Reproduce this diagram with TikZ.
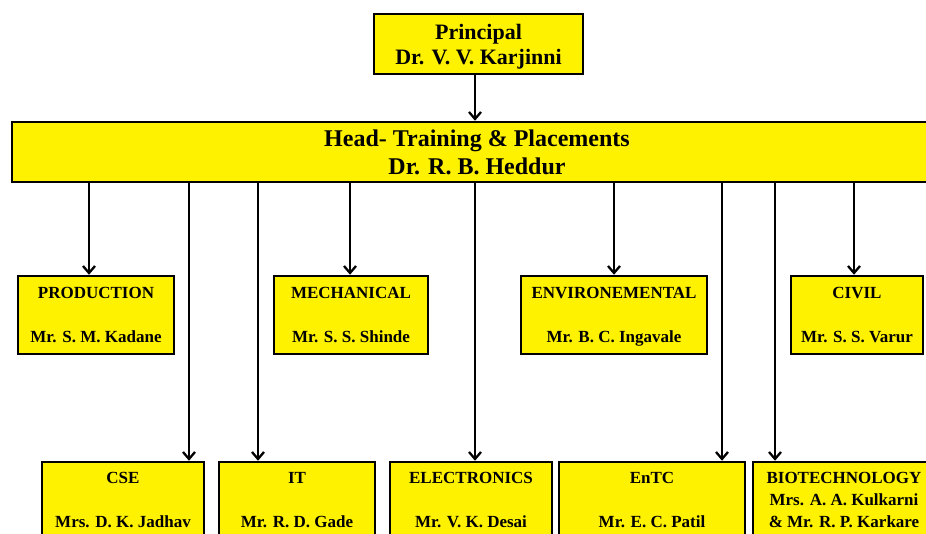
\documentclass[tikz,border=0pt]{standalone}
\usepackage{fontspec}
\setmainfont{Liberation Serif}
\usetikzlibrary{arrows.meta, positioning}
\newcommand{\topfont}{\fontsize{22}{25}\selectfont\bfseries}
\newcommand{\headfont}{\fontsize{24}{28}\selectfont\bfseries}
\newcommand{\deptfont}{\fontsize{17}{22}\selectfont\bfseries}

\begin{document}
\begin{tikzpicture}[x=1pt, y=-1pt,
  unit/.style={draw, line width=2.5pt, fill=yellow, align=center, inner sep=0pt},
  dept/.style={unit, font=\deptfont, minimum height=78pt, text depth=-1pt},
  link/.style={-{Straight Barb[length=7pt,width=12pt]}, line width=2.3pt}]
  \clip (0,0) rectangle (926,533);
  % 組織図
  \node[unit, font=\topfont, minimum width=209pt, minimum height=60pt, text depth=-1pt] (principal) at (478.5,44) {Principal\\Dr. V. V. Karjinni};
  \node[unit, font=\headfont, minimum width=930pt, minimum height=60pt, text depth=-4pt] (head) at (477,152) {Head- Training \& Placements\\Dr. R. B. Heddur};

  \node[dept, minimum width=156pt] (prod) at (96,315) {PRODUCTION\\[22pt]Mr. S. M. Kadane};
  \node[dept, minimum width=154pt] (mech) at (351,315) {MECHANICAL\\[22pt]Mr. S. S. Shinde};
  \node[dept, minimum width=186pt] (env) at (614,315) {ENVIRONEMENTAL\\[22pt]Mr. B. C. Ingavale};
  \node[dept, minimum width=132pt] (civil) at (857,315) {CIVIL\\[22pt]Mr. S. S. Varur};

  \node[dept, minimum width=162pt, minimum height=76pt] (cse) at (123,500) {CSE\\[22pt]Mrs. D. K. Jadhav};
  \node[dept, minimum width=156pt, minimum height=76pt] (it) at (297,500) {IT\\[22pt]Mr. R. D. Gade};
  \node[dept, minimum width=162pt, minimum height=76pt] (elec) at (471,500) {ELECTRONICS\\[22pt]Mr. V. K. Desai};
  \node[dept, minimum width=186pt, minimum height=76pt] (entc) at (652,500) {EnTC\\[22pt]Mr. E. C. Patil};
  \node[dept, minimum width=182pt, minimum height=76pt] (bio) at (844,500) {BIOTECHNOLOGY\\Mrs. A. A. Kulkarni\\\& Mr. R. P. Karkare};

  \draw[link] (principal.south -| 475,0) -- (head.north -| 475,0);

  \draw[link] (head.south -| 89,0) -- (prod.north -| 89,0);
  \draw[link] (head.south -| 350,0) -- (mech.north -| 350,0);
  \draw[link] (head.south -| 614,0) -- (env.north -| 614,0);
  \draw[link] (head.south -| 854,0) -- (civil.north -| 854,0);

  \draw[link] (head.south -| 189,0) -- (cse.north -| 189,0);
  \draw[link] (head.south -| 258,0) -- (it.north -| 258,0);
  \draw[link] (head.south -| 475,0) -- (elec.north -| 475,0);
  \draw[link] (head.south -| 722,0) -- (entc.north -| 722,0);
  \draw[link] (head.south -| 775,0) -- (bio.north -| 775,0);
\end{tikzpicture}
\end{document}
